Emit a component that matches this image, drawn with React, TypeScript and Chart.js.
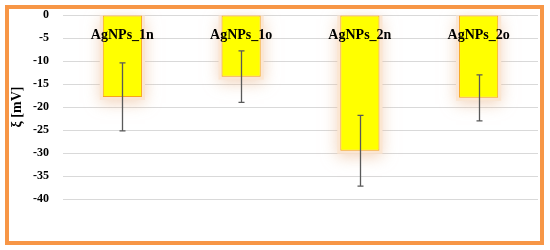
import React, { useEffect, useRef } from "react";
import { Chart, registerables } from "chart.js";

Chart.register(...registerables);

const categories = ["AgNPs_1n", "AgNPs_1o", "AgNPs_2n", "AgNPs_2o"];
const zetaValues = [-17.8, -13.4, -29.5, -18.0];
const zetaErrors = [7.4, 5.6, 7.7, 5.0];
const yTicks = [0, -5, -10, -15, -20, -25, -30, -35, -40];

const serif = "'Liberation Serif', 'Times New Roman', serif";

const shadowPlugin = {
  id: "barShadow",
  beforeDatasetsDraw(chart: any) {
    const ctx = chart.ctx;
    const meta = chart.getDatasetMeta(0);
    ctx.save();
    ctx.shadowColor = "rgba(235,185,145,0.6)";
    ctx.shadowBlur = 14;
    ctx.shadowOffsetX = 0;
    ctx.shadowOffsetY = 3;
    ctx.fillStyle = "rgba(251,230,210,1)";
    meta.data.forEach((bar: any) => {
      const half = bar.width / 2;
      const top = Math.min(bar.y, bar.base);
      const h = Math.abs(bar.base - bar.y);
      ctx.fillRect(bar.x - half - 3, top, bar.width + 6, h + 3);
    });
    ctx.restore();
  },
};

const errorAndLabelPlugin = {
  id: "errorAndLabel",
  afterDatasetsDraw(chart: any) {
    const ctx = chart.ctx;
    const yScale = chart.scales.y;
    const meta = chart.getDatasetMeta(0);
    ctx.save();
    ctx.strokeStyle = "#595959";
    ctx.lineWidth = 1.3;
    meta.data.forEach((bar: any, i: number) => {
      const v = zetaValues[i];
      const e = zetaErrors[i];
      const yt = yScale.getPixelForValue(v + e);
      const yb = yScale.getPixelForValue(v - e);
      const x = Math.round(bar.x) + 0.5;
      ctx.beginPath();
      ctx.moveTo(x, yt);
      ctx.lineTo(x, yb);
      ctx.moveTo(x - 3, yt);
      ctx.lineTo(x + 3, yt);
      ctx.moveTo(x - 3, yb);
      ctx.lineTo(x + 3, yb);
      ctx.stroke();
    });
    ctx.fillStyle = "#000";
    ctx.font = `bold 14px ${serif}`;
    ctx.textAlign = "center";
    ctx.textBaseline = "middle";
    meta.data.forEach((bar: any, i: number) => {
      ctx.fillText(categories[i], bar.x, yScale.getPixelForValue(0) + 20);
    });
    ctx.restore();
  },
};

export default function App() {
  const ref = useRef<HTMLCanvasElement | null>(null);
  useEffect(() => {
    if (!ref.current) return;
    const chart = new Chart(ref.current, {
      type: "bar",
      data: {
        labels: categories,
        datasets: [
          {
            data: zetaValues,
            backgroundColor: "#FFFF00",
            borderColor: "#F7A51C",
            borderWidth: 1,
            borderSkipped: false,
            barPercentage: 0.33,
            categoryPercentage: 1,
          },
        ],
      },
      options: {
        animation: false,
        responsive: false,
        maintainAspectRatio: false,
        layout: { padding: { top: 6, right: 2, bottom: 42, left: 0 } },
        plugins: {
          legend: { display: false },
          tooltip: { enabled: false },
        },
        scales: {
          x: { display: false },
          y: {
            min: -40,
            max: 0,
            afterFit(scale: any) {
              scale.width = 54;
              scale.paddingTop = 0;
              scale.paddingBottom = 0;
            },
            afterBuildTicks(scale: any) {
              scale.ticks = yTicks.map((v) => ({ value: v }));
            },
            border: { display: false },
            grid: { color: "#d9d9d9", lineWidth: 1, drawTicks: false },
            ticks: {
              color: "#000",
              padding: 14,
              font: { family: serif, size: 12, weight: "bold" },
            },
            title: {
              display: true,
              text: "ξ [mV]",
              color: "#000",
              padding: 0,
              font: { family: serif, size: 14, weight: "bold" },
            },
          },
        },
      },
      plugins: [shadowPlugin, errorAndLabelPlugin],
    });
    return () => chart.destroy();
  }, []);
  return (
    <div
      style={{
        position: "fixed",
        left: 5,
        top: 5,
        width: 539,
        height: 240,
        boxSizing: "border-box",
        border: "4px solid #F79646",
        background: "#fff",
      }}
    >
      <canvas ref={ref} width={531} height={232} style={{ display: "block" }} />
    </div>
  );
}
